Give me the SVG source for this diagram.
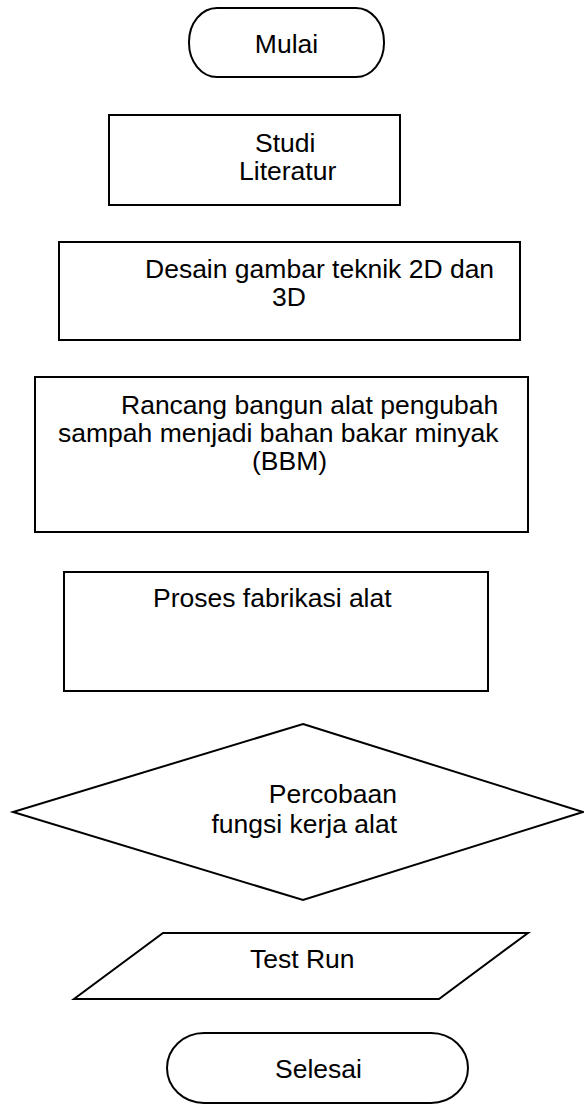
<svg xmlns="http://www.w3.org/2000/svg" width="584" height="1104" viewBox="0 0 584 1104">
<style>
.s{fill:#fff;stroke:#000;stroke-width:2}
.t{font-family:"Liberation Sans",Arial,sans-serif;font-size:26.5px;fill:#000}
</style>
<rect width="584" height="1104" fill="#fff"/>
<g id="connectors"/>
<g id="mulai">
<rect class="s" x="189" y="8" width="195" height="69" rx="28" ry="34"/>
<text class="t" x="286.5" y="53" text-anchor="middle">Mulai</text>
</g>
<g id="studi">
<rect class="s" x="109" y="115" width="291" height="90"/>
<text class="t" x="255" y="152">Studi</text>
<text class="t" x="239" y="180">Literatur</text>
</g>
<g id="desain">
<rect class="s" x="59" y="242" width="461" height="98"/>
<text class="t" x="145" y="278">Desain gambar teknik 2D dan</text>
<text class="t" x="272" y="306">3D</text>
</g>
<g id="rancang">
<rect class="s" x="35" y="377" width="493" height="155"/>
<text class="t" x="121" y="414">Rancang bangun alat pengubah</text>
<text class="t" x="58" y="442">sampah menjadi bahan bakar minyak</text>
<text class="t" x="252" y="470">(BBM)</text>
</g>
<g id="proses">
<rect class="s" x="64" y="572" width="424" height="119"/>
<text class="t" x="153" y="607">Proses fabrikasi alat</text>
</g>
<g id="percobaan">
<polygon class="s" points="303,724 583,812 303,900 13,812"/>
<text class="t" x="397" y="803" text-anchor="end">Percobaan</text>
<text class="t" x="397" y="833" text-anchor="end">fungsi kerja alat</text>
</g>
<g id="testrun">
<polygon class="s" points="163,933 528,933 439,999 74,999"/>
<text class="t" x="250" y="968">Test Run</text>
</g>
<g id="selesai">
<rect class="s" x="167" y="1033" width="301" height="70" rx="37" ry="35"/>
<text class="t" x="275" y="1078">Selesai</text>
</g>
</svg>
